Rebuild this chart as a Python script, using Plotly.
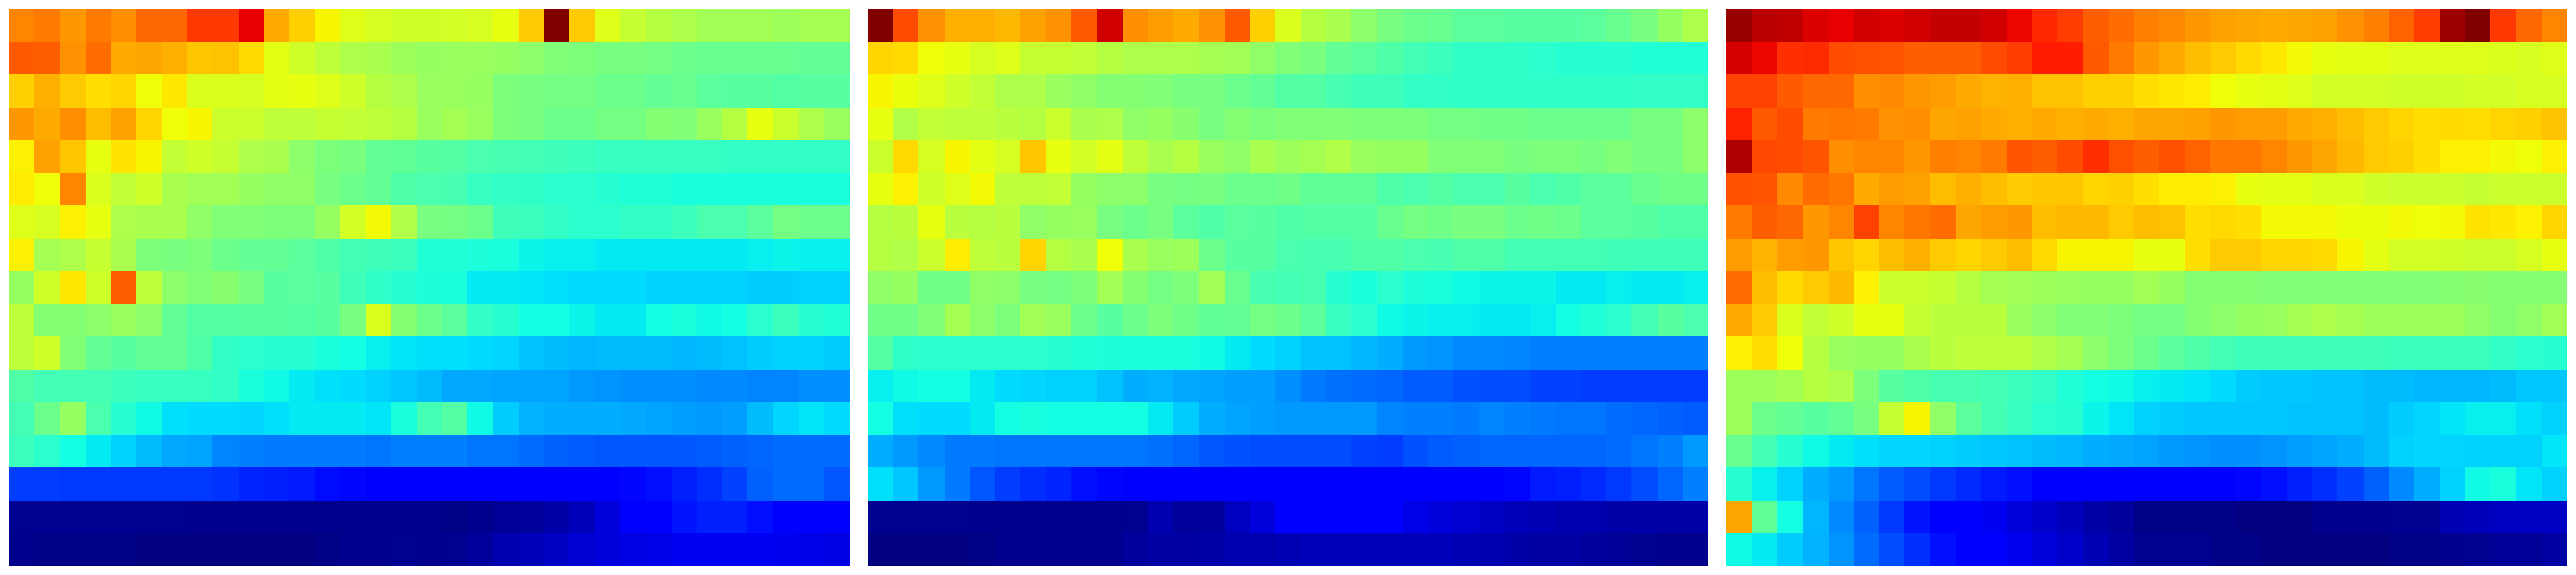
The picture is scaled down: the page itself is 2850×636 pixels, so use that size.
import numpy as np
import plotly.graph_objects as go
from plotly.subplots import make_subplots

panel_a = [
[77,78,75,78,76,80,80,85,85,91,73,69,65,62,61,60,60,60.5,61,63,69.5,100,69.5,62,59,57,56,54.5,54.5,54.5,54,55,55],
[81.5,81,75.5,79.5,73,73.5,72.5,70,70.5,68,62.5,60,58,56,55.5,54,53,53.5,53.5,53,52,50.5,50,49.5,49.5,49,48,47.5,47.5,47.5,47.5,47,47],
[69,72.5,69.5,67.5,68.5,64,66.5,61.5,61.5,61,62.5,63,62,60,57,56,53.5,53.5,53,50,49.5,49,49,48,48,47,47.5,46,45.5,45.5,45,45.5,45.5],
[75,73,76,71,74,68.5,64,65,59.5,59.5,58,58,59,58.5,58,57,53.5,55,53.5,50,49.5,48,48,49,49,51,50.5,53.5,57,63,59.5,56,53.5],
[65.5,74,70,63,67,65,58.5,60,59,56,55.5,52,50,49.5,47,46.5,45.5,45,44,43.5,43,42.5,42,41.5,41.5,41.5,41.5,41.5,41,41,41,41,41],
[66,64,77,61.5,58.5,60,55.5,54.5,54.5,53,52.5,52.5,49.5,48,47,44.5,44,43.5,41.5,41,40.5,40,40,39.5,39,39,38,38,38,38,38,38,38],
[62,61,65.5,63,56,55.5,55.5,52.5,50.5,50.5,50,50,53,60.5,64.5,56.5,49.5,49,48,42.5,42,41,40,40,41,41,42,44,44,46,49,48,48],
[65.5,55,56,59,55.5,50,49.5,50,48,47,47,46,44.5,43,42.5,42,39,39,38.5,38,36.5,36,36,35.5,35.5,35.5,35.5,35.5,35.5,36,36.5,36,36],
[53,60,66.5,60,81,58,52,50.5,51.5,49.5,45.5,46,45.5,42.5,40.5,39.5,38.5,38,35.5,35.5,35,34.5,34,34,34,33,33,33,33,32.5,32.5,33,33],
[58,51,51,52,53.5,52,47,45,45,45.5,45.5,45,45.5,49.5,61.5,51,48,46,41,39.5,37.5,37.5,36.5,35.5,35.5,37.5,38,37,37.5,40,42,39.5,39],
[58,60,50.5,47,45.5,47,47,44.5,41,40,39.5,39.5,38,37.5,36,35,34.5,34.5,34,33.5,31.5,31,30.5,31,31,31,30.5,31,31.5,32.5,33,33,32.5],
[44.5,43,43,43,42,41.5,41.5,41.5,41,38,37,35.5,34.5,34,33,32,31,29,29,28.5,28.5,28.5,27.5,27,26.5,26.5,26.5,26,26,25.5,25.5,26.5,26.5],
[43,48,53,44,39.5,37,34.5,34,34,33.5,34.5,35.5,35.5,35.5,35,38,43,45,37,32.5,30,29.5,29.5,29.5,29,28.5,28,27.5,28,31,33.5,35,34],
[42,40,37.5,35.5,33,31,29,28.5,25.5,25,24.5,24.5,24.5,24.5,24,25,25,25,24,24,23,22,21.5,21,21,21,21,21.5,22,22.5,23,23,23],
[18.5,18.5,18,18,18,18,18,18,17.5,16,15.5,15,13.5,13,12.5,11.5,11.5,11.5,11.5,11.5,11.5,11.5,12,12,13,14,15.5,17,19,22,23,23,21],
[1.5,1.5,1.5,1.5,1.5,1.5,1.5,1,1,1,1,1,1,1,1,1,1,0.5,1,2,2.5,3.5,5,8,11,11.5,14.5,15.5,15.5,14,12,11,11],
[1,0.5,0.5,0.5,0.5,0,0,0,0,0,0,0,0.5,1,1,1.5,1,1.5,2.5,4,5,6,7,8,8.5,9,10,10,10,10,9.5,9,8.5],
]

panel_b = [
[100,83,75.5,72.5,72.5,71.5,74,75.5,81.5,93,76,74.5,73,75.5,81.5,69,61.5,57,55.5,52,49.5,48,47.5,46,46,45.5,45.5,45.5,46,47.5,49.5,53,56],
[68.5,68,64,63,61,62,59,59,58.5,57,56,56,56,55,54.5,52.5,50.5,49.5,47,46,44.5,43,42,40.5,40.5,40.5,40,39.5,39.5,39.5,39,39,39],
[65,63.5,62,60,58.5,56,56,53.5,52.5,51,51,50.5,49.5,49.5,48,47,45,45,43.5,42.5,42.5,41,41,40.5,40.5,40.5,40.5,40.5,40.5,40.5,41,41,41],
[63,56.5,58.5,58,58,57.5,57,59.5,55.5,56,52.5,53,51.5,49.5,51,50,50.5,50.5,50.5,50,50,50,49,49,48.5,48.5,48,48,48,48,49.5,49.5,52],
[59.5,68,61,65,62.5,61,70,63,60.5,62.5,58,55.5,57,53.5,52.5,55.5,54,55,56.5,53.5,53,53,50.5,50.5,50.5,49.5,50,50,49.5,50.5,49.5,49.5,52],
[63,65.5,60,62,64.5,58,58,58.5,53,52,52,49.5,49,49.5,48,48,48.5,46.5,46.5,46.5,44.5,44,45,44,44,45.5,44,44.5,46,46,47.5,48.5,48.5],
[57,57.5,63,57.5,57,57.5,52.5,53,53.5,49.5,48,49.5,46,44.5,46,45.5,44.5,45,45,45,47.5,49,48.5,49.5,49.5,48,48.5,48,46,46,45.5,44.5,44.5],
[57,56.5,59.5,66,58,57.5,68.5,57,55.5,64,55.5,53.5,54,48,45.5,45.5,44,43.5,43.5,44.5,44.5,44,43.5,44.5,44.5,43,43,43,43,42.5,42.5,42.5,42.5],
[52.5,53,48.5,48.5,52.5,52,49.5,49,50,54.5,51,49,50,54.5,47.5,43.5,43,43.5,39.5,38,40,38.5,38,37,36.5,36.5,36.5,35.5,35.5,36,35.5,35.5,36],
[48.5,48.5,50.5,55,52,50,54.5,53.5,48,45.5,48,50,48.5,46.5,47,49,48,46,41.5,40,37,36.5,36,36,35.5,35.5,36,37.5,39,40,43,45.5,44],
[45,40.5,40,40,40,40,40,39.5,39,38.5,38,38,38,37,35.5,34,33,31.5,31.5,30.5,29.5,27.5,27,26,26,25.5,25,25,25,25,25,25,25],
[36,37,37.5,37.5,35.5,34,33.5,33,33,31.5,29.5,30,29,28.5,28,28,26.5,24.5,23.5,23,22.5,21.5,21.5,20.5,20,20,19,19,18.5,18.5,18.5,18.5,18.5],
[37.5,34.5,34,34,35.5,37.5,38,37.5,37.5,37.5,37.5,35.5,32.5,29.5,28.5,28,27.5,27.5,27.5,27.5,25.5,25,25,24.5,25.5,25,24.5,24,24,23,22.5,22,21.5],
[29.5,27.5,26,24.5,24.5,24,24,24,24,24,24,23.5,22.5,21,20.5,20,20,20,20,19,18.5,20.5,21.5,22,22.5,22.5,22.5,22.5,22.5,23,24,25,27.5],
[34.5,32,27.5,24.5,21,18.5,17,16,14,13,12,11,11,11,11,11,11,11,11,11,11,11,11.5,12,12.5,13,15,15.5,16.5,18,20,22.5,25],
[1.5,1.5,1.5,1.5,1,1,1,1,1,1,1.5,4,2.5,2.5,5.5,8,11,11,12.5,11,11,9,8,7,6,5,4.5,4,4,3.5,3.5,3.5,3.5],
[0,0,0,0,0.5,1,1,1,1,1,2.5,3,3,3.5,4,4,4.5,5,5,5,5,5,5,4.5,4,3.5,3,3,2.5,2,1.5,1,1],
]

panel_c = [
[98,95,94.5,92,91,93,92,93,94,94,93,90.5,87,84.5,81,79.5,77.5,76.5,75,74,73.5,73,73.5,74,75.5,77.5,80.5,84.5,97.5,100,85,80,77],
[92.5,90.5,86,86.5,83,82.5,82,81,81,81,83,84.5,88,88,81.5,78,75,73,71,69.5,68,66.5,64.5,63,62.5,62.5,62,62,62,62,61.5,61,62],
[84,84,81.5,80,80,76,76.5,75,74.5,73,72,72.5,70.5,70.5,69,69,67.5,66.5,66,64,63,62.5,62,60.5,60.5,60.5,60,60,60,60.5,60.5,61,61],
[87.5,81.5,83,78,78.5,78,75.5,76,73.5,74,73,72.5,73,72.5,73,72.5,73.5,73.5,74,75,74.5,74.5,73,72.5,71,69.5,68.5,67.5,68,67.5,68.5,69,70.5],
[96,83.5,83,82,76,77,77,75,77.5,77,78,82,81,83,86,82.5,81,82.5,80.5,78.5,78.5,77,75,73.5,71.5,69.5,69,67.5,65.5,65.5,64.5,64,65.5],
[82.5,82,76.5,79.5,78.5,73,74.5,74,71,72.5,71,69.5,70,70,68.5,69,67.5,66,66,65.5,63,62.5,62.5,61.5,61.5,60,59.5,59.5,59.5,59,59.5,59.5,59.5],
[78,81,80,75,77,84,77,78.5,79.5,73.5,74.5,75,71,71.5,71.5,69.5,71,70.5,67.5,68,67.5,64.5,64.5,64.5,63.5,63.5,64.5,64,64.5,67,66.5,65.5,68.5],
[74.5,72,74.5,75,70,68.5,71,72.5,69.5,68.5,69.5,71,68,65,65,65,63,63,67.5,69.5,69.5,68.5,68.5,68,65,62.5,60.5,60.5,60,59.5,59.5,61,63],
[79.5,71,68,69.5,71.5,65.5,59.5,59.5,59,57,55,54.5,54,53.5,53,53,54.5,53,51,51,51,50.5,50.5,50.5,50.5,50.5,50.5,50.5,51,51.5,51,51,51],
[73,69.5,61.5,58.5,60,63,63,59,57.5,57.5,57.5,53.5,52,50.5,50.5,50,49,49,51,52,53,53.5,55,56,55,54,54,54,54,52.5,51,52.5,54.5],
[65.5,67.5,64,57,53.5,53,53,55.5,57.5,58,58,58,56.5,55,52,50,48,46,44.5,43,42.5,42.5,42.5,42.5,42.5,42.5,42,42,42,42,41,40,39.5],
[54,54,55,57,56,50,45.5,44.5,43.5,43.5,43,42,41,39,37.5,37,36,35.5,35,34,32.5,32,32,31.5,31.5,31,31,30.5,30.5,30.5,31,32,32],
[54,48,47,45.5,47,49.5,59,65,52.5,46,43,41.5,40,39.5,36.5,35,33,32.5,32,32,32,32,31.5,31.5,31.5,31,32.5,33.5,35,36,36,34.5,33],
[47.5,43,39.5,37,35.5,34.5,33.5,33.5,33,32.5,32,31.5,31,30.5,29.5,29,28.5,27.5,27,26.5,26.5,27,28,28.5,29.5,31,33,33.5,33.5,33,33,33,35],
[39.5,36,33,29.5,27.5,24,21.5,20,18,16.5,15,14,12.5,12,11.5,11,11,11,11,11,13,14,15.5,17,19,22,26,29.5,33,37,38,35,33],
[73.5,46.5,37.5,30.5,26,22,18,14.5,11,11,10,8,6.5,5,3.5,2.5,0.5,0.5,0.5,0.5,0,0,0,1,1,1,1.5,1.5,4.5,5,5.5,6,6],
[37,35.5,32.5,30,27,23,20,17,14,11,11,9.5,8,6.5,4.5,3,1.5,1.5,1.5,0.5,0.5,0,0,0,0,0,0.5,0.5,1,1.5,2,2,3],
]

panels = [panel_a, panel_b, panel_c]
for p in panels:
    assert len(p) == 17 and all(len(r) == 33 for r in p)

# matplotlib-style jet colour ramp
stops = [0, .11, .125, .34, .35, .375, .64, .65, .66, .89, .91, 1]
red = np.interp(stops, [0, .35, .66, .89, 1], [0, 0, 1, 1, .5])
green = np.interp(stops, [0, .125, .375, .64, .91, 1], [0, 0, 1, 1, 0, 0])
blue = np.interp(stops, [0, .11, .34, .65, 1], [.5, 1, 1, 0, 0])
jet = [[s, f"rgb({r*255:.0f},{g*255:.0f},{b*255:.0f})"] for s, r, g, b in zip(stops, red, green, blue)]

W, H = 2850, 636
fig = make_subplots(rows=1, cols=3)
left = [10, 960, 1910]
for i, z in enumerate(panels):
    fig.add_trace(go.Heatmap(z=z, colorscale=jet, zmin=0, zmax=100, showscale=False, hoverinfo="skip"), row=1, col=i + 1)
    ax = "" if i == 0 else str(i + 1)
    fig.layout[f"xaxis{ax}"].update(domain=[left[i] / W, (left[i] + 930) / W], visible=False)
    fig.layout[f"yaxis{ax}"].update(domain=[10 / H, 626 / H], visible=False, autorange="reversed")

fig.update_layout(width=W, height=H, margin=dict(l=0, r=0, t=0, b=0),
                  paper_bgcolor="white", plot_bgcolor="white")
fig.write_html("out.html", config={"displayModeBar": False},
               post_script="document.body.style.margin='0';")
